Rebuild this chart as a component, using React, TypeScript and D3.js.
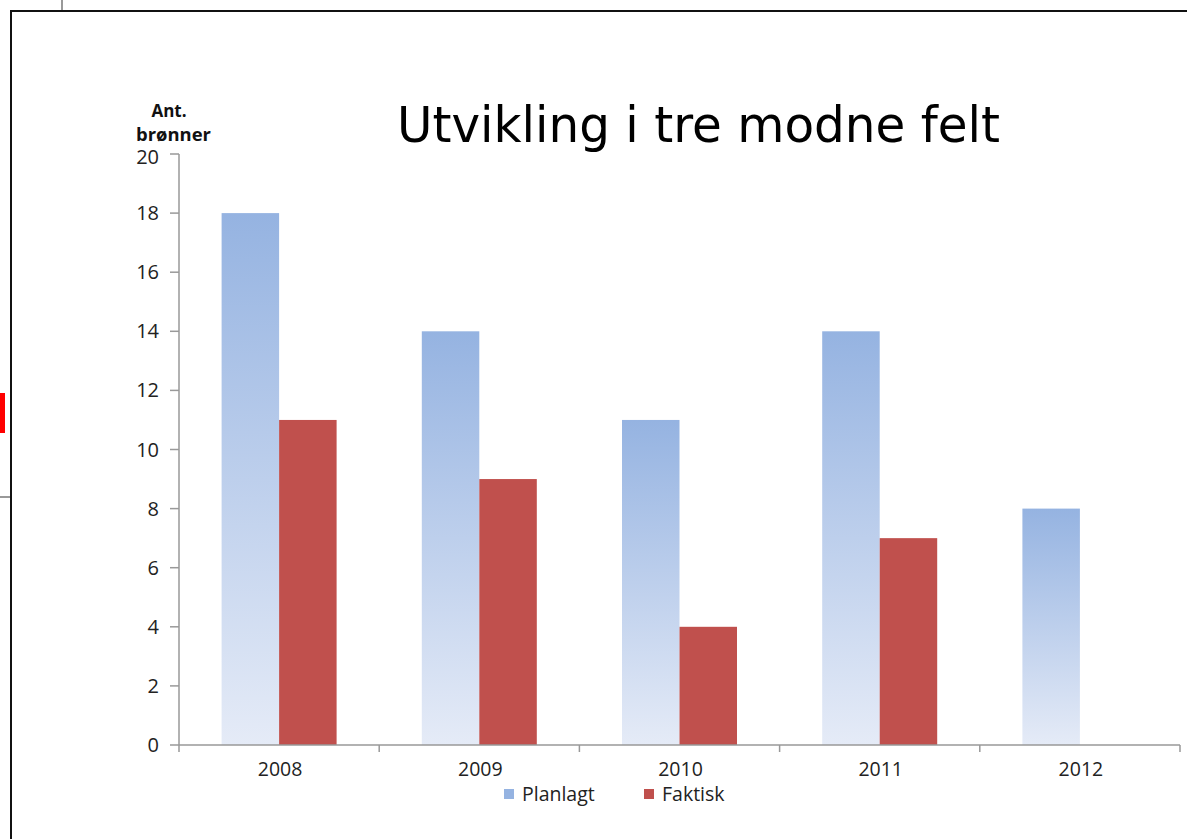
import React from "react";
import * as d3 from "d3";

const categories = ["2008", "2009", "2010", "2011", "2012"];
const planlagt = [18, 14, 11, 14, 8];
const faktisk: (number | null)[] = [11, 9, 4, 7, null];
const yTicks = [0, 2, 4, 6, 8, 10, 12, 14, 16, 18, 20];
const seriesNames = ["Planlagt", "Faktisk"];

const W = 1187;
const H = 839;
const left = 179;
const right = 1180;
const top = 154;
const bottom = 745;

export default function App() {
  const x = d3.scaleBand<string>().domain(categories).range([left, right]);
  const inner = d3.scaleBand<string>().domain(seriesNames).range([0, 115]);
  const y = d3.scaleLinear().domain([0, 20]).range([bottom, top]);
  const groupOffset = (x.bandwidth() - 115) / 2;
  const font = "'Open Sans', 'Liberation Sans', sans-serif";

  return (
    <svg width={W} height={H} style={{ position: "absolute", left: 0, top: 0, background: "#fff" }}>
      <defs>
        <linearGradient id="blueGrad" x1="0" y1="0" x2="0" y2="1">
          <stop offset="0" stopColor="#95b3e1" />
          <stop offset="1" stopColor="#e5ebf7" />
        </linearGradient>
      </defs>
      {/* slide artifacts */}
      <line x1={62} y1={0} x2={62} y2={11} stroke="#999" strokeWidth={2} />
      <rect x={0} y={393} width={5} height={40} fill="#ff0000" />
      <line x1={0} y1={497} x2={10} y2={497} stroke="#999" strokeWidth={2} />
      <path d={`M11,${H} L11,11 L${W},11`} fill="none" stroke="#111" strokeWidth={2} />

      <text
        x={397}
        y={142}
        fontFamily="'DejaVu Sans', Verdana, sans-serif"
        fontSize={50}
        textLength={603}
        lengthAdjust="spacingAndGlyphs"
        fill="#000"
      >
        Utvikling i tre modne felt
      </text>
      <text x={169} y={117} textAnchor="middle" fontFamily={font} fontWeight="bold" fontSize={17} fill="#111">Ant.</text>
      <text x={136} y={141} fontFamily={font} fontWeight="bold" fontSize={17} textLength={75} lengthAdjust="spacingAndGlyphs" fill="#111">brønner</text>

      {/* bars */}
      {categories.map((c, i) => {
        const gx = (x(c) as number) + groupOffset;
        const f = faktisk[i];
        return (
          <g key={c}>
            <rect
              x={gx + (inner("Planlagt") as number)}
              y={y(planlagt[i])}
              width={inner.bandwidth()}
              height={bottom - y(planlagt[i])}
              fill="url(#blueGrad)"
            />
            {f !== null && (
              <rect
                x={gx + (inner("Faktisk") as number)}
                y={y(f)}
                width={inner.bandwidth()}
                height={bottom - y(f)}
                fill="#c0504d"
              />
            )}
          </g>
        );
      })}

      {/* y axis */}
      <line x1={left} y1={top} x2={left} y2={bottom} stroke="#999" strokeWidth={1.5} />
      {yTicks.map((t) => (
        <g key={t}>
          <line x1={170} y1={y(t)} x2={left} y2={y(t)} stroke="#999" strokeWidth={1.5} />
          <text x={159} y={y(t) + (t === 20 ? 10 : 7)} textAnchor="end" fontFamily={font} fontSize={20} fill="#222">
            {t}
          </text>
        </g>
      ))}

      {/* x axis */}
      <line x1={left} y1={bottom} x2={right} y2={bottom} stroke="#999" strokeWidth={1.5} />
      {[...categories.map((c) => x(c) as number), right].map((v, i) => (
        <line key={i} x1={v} y1={bottom} x2={v} y2={bottom + 7} stroke="#999" strokeWidth={1.5} />
      ))}
      {categories.map((c) => (
        <text
          key={c}
          x={(x(c) as number) + x.bandwidth() / 2 + 1}
          y={776}
          textAnchor="middle"
          fontFamily={font}
          fontSize={19.5}
          fill="#222"
        >
          {c}
        </text>
      ))}

      {/* legend */}
      <rect x={504} y={789} width={10} height={10} fill="#95b3e1" />
      <text x={522} y={801} fontFamily={font} fontSize={19.5} fill="#222">Planlagt</text>
      <rect x={644} y={789} width={10} height={10} fill="#c0504d" />
      <text x={662} y={801} fontFamily={font} fontSize={19.5} fill="#222">Faktisk</text>
    </svg>
  );
}
